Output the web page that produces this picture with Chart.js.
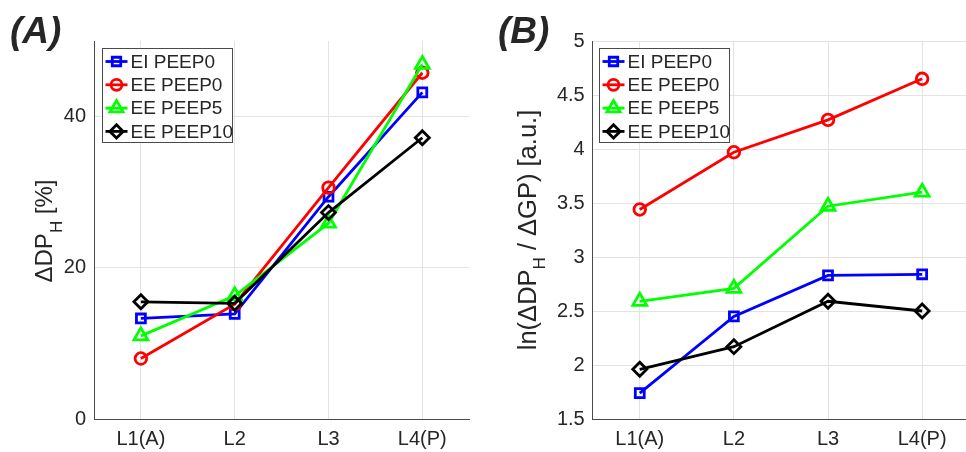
<!DOCTYPE html>
<html><head><meta charset="utf-8">
<script src="https://cdn.jsdelivr.net/npm/chart.js@4.4.1/dist/chart.umd.min.js"></script>
<style>
html,body{margin:0;padding:0;background:#fff;overflow:hidden;width:966px;height:452px;position:relative;}
#wa{position:absolute;left:0;top:0;width:480px;height:452px;}
#wb{position:absolute;left:480px;top:0;width:500px;height:452px;}
canvas{display:block;}
</style></head><body>
<div id="wa"><canvas id="ca" width="480" height="452"></canvas></div>
<div id="wb"><canvas id="cb" width="500" height="452"></canvas></div>
<script>
// ---- data ----
const categories = ['L1(A)', 'L2', 'L3', 'L4(P)'];
const seriesNames = ['EI PEEP0', 'EE PEEP0', 'EE PEEP5', 'EE PEEP10'];
// Panel A: ΔDP_H [%]
const dpA_EI_PEEP0  = [13.3, 13.9, 29.4, 43.2];
const dpA_EE_PEEP0  = [8.0, 15.2, 30.6, 45.8];
const dpA_EE_PEEP5  = [11.0, 16.3, 25.9, 46.9];
const dpA_EE_PEEP10 = [15.5, 15.3, 27.3, 37.2];
// Panel B: ln(ΔDP_H / ΔGP) [a.u.]
const lnB_EI_PEEP0  = [1.74, 2.45, 2.83, 2.84];
const lnB_EE_PEEP0  = [3.44, 3.97, 4.27, 4.65];
const lnB_EE_PEEP5  = [2.59, 2.71, 3.47, 3.60];
const lnB_EE_PEEP10 = [1.96, 2.17, 2.59, 2.50];
const ticksA = [0, 20, 40];
const ticksB = [1.5, 2, 2.5, 3, 3.5, 4, 4.5, 5];

// ---- styles ----
const FONT = '"Liberation Sans", Arial, Helvetica, sans-serif';
const TXT = '#262626';
const AX = '#4a4a4a';
const GRID = '#e3e3e3';
const colors = ['#0000ff', '#ff0000', '#00ff00', '#000000'];
const pointStyles = ['rect', 'circle', 'triangle', 'rectRot'];
const pointRadii = [6.3, 5.8, 8, 7];

function makeDatasets(arrs) {
  return arrs.map((d, i) => ({
    label: seriesNames[i],
    data: d,
    borderColor: colors[i],
    borderWidth: 2.8,
    pointStyle: pointStyles[i],
    pointRadius: pointRadii[i],
    pointHoverRadius: pointRadii[i],
    pointBorderWidth: 2.8,
    pointBorderColor: colors[i],
    pointBackgroundColor: 'rgba(0,0,0,0)',
    fill: false,
    tension: 0,
    order: 3 - i
  }));
}

function drawMarker(ctx, style, r, x, y) {
  if (Chart.helpers && Chart.helpers.drawPoint) {
    Chart.helpers.drawPoint(ctx, {pointStyle: style, radius: r, rotation: 0, borderWidth: ctx.lineWidth}, x, y);
  }
}

function drawLegend(chart, ox, oy) {
  const ctx = chart.ctx, ca = chart.chartArea;
  const x0 = Math.round(ca.left + ox), y0 = Math.round(ca.top + oy), w = 131, h = 95;
  ctx.save();
  ctx.fillStyle = '#ffffff';
  ctx.fillRect(x0, y0, w, h);
  ctx.strokeStyle = AX; ctx.lineWidth = 1;
  ctx.strokeRect(x0 + 0.5, y0 + 0.5, w - 1, h - 1);
  chart.data.datasets.forEach((ds, i) => {
    const cy = y0 + 13.5 + i * 23.3;
    ctx.strokeStyle = ds.borderColor; ctx.lineWidth = ds.borderWidth;
    ctx.beginPath(); ctx.moveTo(x0 + 3.5, cy); ctx.lineTo(x0 + 25.5, cy); ctx.stroke();
    ctx.fillStyle = 'rgba(0,0,0,0)';
    ctx.lineWidth = ds.pointBorderWidth;
    drawMarker(ctx, ds.pointStyle, ds.pointRadius * 0.95, x0 + 14.5, cy);
    ctx.fillStyle = TXT;
    ctx.font = '19px ' + FONT;
    ctx.textBaseline = 'middle'; ctx.textAlign = 'left';
    ctx.fillText(ds.label, x0 + 28.5, cy + 1);
  });
  ctx.restore();
}

function drawYTitle(ctx, bx, cy, parts, mainSize, subSize) {
  ctx.save();
  ctx.translate(bx, cy); ctx.rotate(-Math.PI / 2);
  const mainF = mainSize + 'px ' + FONT, subF = subSize + 'px ' + FONT;
  let total = 0;
  parts.forEach(p => { ctx.font = p.sub ? subF : mainF; p.w = ctx.measureText(p.t).width; total += p.w; });
  let x = -total / 2;
  ctx.fillStyle = TXT; ctx.textBaseline = 'alphabetic'; ctx.textAlign = 'left';
  parts.forEach(p => { ctx.font = p.sub ? subF : mainF; ctx.fillText(p.t, x, p.sub ? 9.5 : 0); x += p.w; });
  ctx.restore();
}

function drawPanelLabel(ctx, text, x, y) {
  ctx.save();
  ctx.font = 'italic bold 37px ' + FONT;
  ctx.fillStyle = TXT; ctx.textBaseline = 'alphabetic'; ctx.textAlign = 'left';
  ctx.fillText(text, x, y);
  ctx.restore();
}

function baseScales(yMin, yMax, tickVals, yWidth) {
  return {
    x: {
      type: 'category', offset: true,
      grid: {offset: false, color: GRID, drawTicks: false, lineWidth: 1},
      border: {color: AX, width: 1},
      ticks: {font: {family: FONT, size: 20}, color: TXT, padding: 8, maxRotation: 0, autoSkip: false},
      afterFit(s) { s.height = 33; }
    },
    y: {
      type: 'linear', min: yMin, max: yMax,
      afterBuildTicks(s) { s.ticks = tickVals.map(v => ({value: v})); },
      grid: {color: GRID, drawTicks: false, lineWidth: 1},
      border: {color: AX, width: 1},
      ticks: {font: {family: FONT, size: 20}, color: TXT, padding: 8, callback: v => String(v)},
      afterFit(s) { s.width = yWidth; }
    }
  };
}

const commonPlugins = {legend: {display: false}, tooltip: {enabled: false}};

new Chart(document.getElementById('ca'), {
  type: 'line',
  data: {labels: categories, datasets: makeDatasets([dpA_EI_PEEP0, dpA_EE_PEEP0, dpA_EE_PEEP5, dpA_EE_PEEP10])},
  options: {
    responsive: false, animation: false, devicePixelRatio: 1,
    layout: {padding: {left: 0, top: 41, right: 7.3, bottom: 0}},
    scales: baseScales(0, 50, ticksA, 94),
    plugins: commonPlugins
  },
  plugins: [{
    id: 'decorA',
    afterDraw(chart) {
      drawLegend(chart, 7.7, 7.3);
      drawYTitle(chart.ctx, 52, 231, [{t: 'ΔDP'}, {t: 'H', sub: true}, {t: ' [%]'}], 24, 17);
      drawPanelLabel(chart.ctx, '(A)', 10, 43);
    }
  }]
});

new Chart(document.getElementById('cb'), {
  type: 'line',
  data: {labels: categories, datasets: makeDatasets([lnB_EI_PEEP0, lnB_EE_PEEP0, lnB_EE_PEEP5, lnB_EE_PEEP10])},
  options: {
    responsive: false, animation: false, devicePixelRatio: 1,
    layout: {padding: {left: 0, top: 41, right: 10, bottom: 0}},
    scales: baseScales(1.5, 5, ticksB, 112.7),
    plugins: commonPlugins
  },
  plugins: [{
    id: 'decorB',
    afterDraw(chart) {
      drawLegend(chart, 6.6, 7.3);
      drawYTitle(chart.ctx, 55.7, 230, [{t: 'ln(ΔDP'}, {t: 'H', sub: true}, {t: ' / ΔGP) [a.u.]'}], 25.5, 17);
      drawPanelLabel(chart.ctx, '(B)', 18, 43);
    }
  }]
});
</script>
</body></html>
